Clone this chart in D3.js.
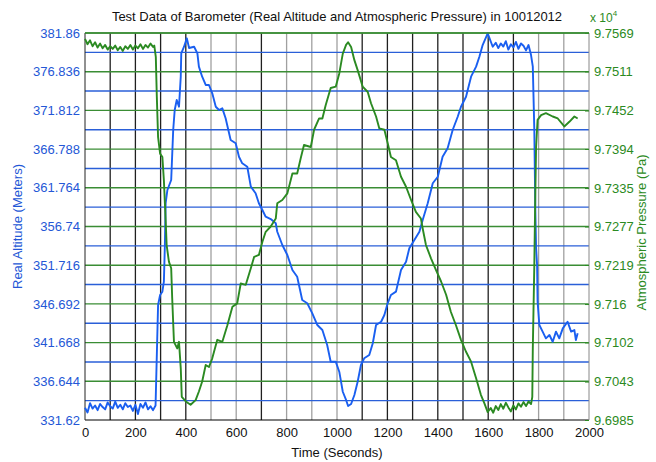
<!DOCTYPE html>
<html>
<head>
<meta charset="utf-8">
<script src="https://cdn.jsdelivr.net/npm/d3@7"></script>
<style>
  body { margin: 0; background: #fff; }
  svg { font-family: "Liberation Sans", Arial, sans-serif; }
</style>
</head>
<body>
<svg id="chart" width="656" height="462"></svg>
<script>
// time ticks (seconds)
const timeTicks = [0, 200, 400, 600, 800, 1000, 1200, 1400, 1600, 1800, 2000];
// left axis ticks (meters)
const altTicks = [331.62, 336.644, 341.668, 346.692, 351.716, 356.74, 361.764, 366.788, 371.812, 376.836, 381.86];
// right axis ticks (Pa)
const pressTicks = [96985, 97043, 97102, 97160, 97219, 97277, 97335, 97394, 97452, 97511, 97569];

// real altitude, [seconds, meters]
const altitude = [
  [0, 333.2], [10, 332.6], [20, 333.8], [30, 333.1], [40, 333.5], [50, 332.9], [60, 333.7],
  [70, 333.3], [80, 333.0], [90, 333.9], [100, 333.4], [110, 333.1], [120, 334.0], [130, 333.2],
  [140, 333.6], [150, 333.0], [160, 333.8], [170, 333.3], [180, 333.5], [190, 332.8], [200, 333.6],
  [210, 332.4], [220, 333.7], [230, 333.2], [240, 333.9], [250, 333.0], [260, 333.4], [270, 332.9],
  [280, 333.5], [290, 346.55], [298, 347.85], [307, 348.28], [313, 349.57], [317, 354.34],
  [320, 359.79], [327, 361.48], [342, 362.78], [350, 369.27], [356, 371.86], [364, 373.16],
  [373, 372.29], [380, 376.19], [382, 379.22], [393, 380.08], [404, 381.17], [413, 379.91],
  [433, 380.08], [446, 379.22], [452, 377.49], [465, 376.19], [479, 375.11], [492, 375.11],
  [505, 374.03], [519, 372.29], [532, 371.86], [545, 372.08], [558, 370.79], [578, 367.97],
  [598, 367.54], [611, 365.80], [624, 364.94], [644, 364.50], [658, 361.91], [677, 361.05],
  [690, 359.75], [704, 358.88], [717, 358.01], [737, 357.71], [757, 357.16], [763, 356.06],
  [783, 354.34], [803, 353.04], [823, 351.09], [842, 350.22], [862, 347.20], [882, 346.77],
  [902, 345.47], [922, 343.95], [942, 343.30], [961, 341.36], [975, 339.19], [995, 339.19],
  [1009, 337.89], [1023, 335.29], [1036, 334.22], [1044, 333.44], [1056, 333.70], [1069, 334.86],
  [1082, 336.59], [1095, 338.76], [1108, 339.63], [1128, 340.06], [1142, 341.58], [1155, 343.95],
  [1175, 344.38], [1188, 345.25], [1201, 346.77], [1214, 347.85], [1234, 348.28], [1254, 351.09],
  [1274, 352.17], [1287, 353.91], [1307, 354.99], [1327, 356.06], [1340, 357.58], [1360, 359.75],
  [1380, 362.35], [1400, 363.20], [1419, 365.80], [1439, 366.89], [1459, 369.27], [1479, 370.99],
  [1492, 372.29], [1512, 373.59], [1532, 376.19], [1552, 377.49], [1565, 378.78], [1578, 380.30],
  [1598, 381.82], [1618, 380.08], [1630, 380.6], [1640, 379.9], [1650, 380.5], [1660, 380.1],
  [1670, 380.8], [1680, 379.7], [1690, 380.4], [1700, 380.0], [1710, 380.7], [1720, 379.8],
  [1730, 380.5], [1740, 380.2], [1750, 379.6], [1760, 380.3], [1770, 379.0], [1777, 377.49],
  [1783, 369.27], [1787, 358.88], [1790, 353.95], [1794, 351.74], [1796, 346.98], [1803, 343.95],
  [1816, 343.09], [1829, 342.22], [1843, 342.65], [1856, 341.78], [1869, 343.09], [1882, 342.22],
  [1896, 343.52], [1915, 344.38], [1929, 343.09], [1942, 343.30], [1948, 342.0], [1955, 342.87]
];

// atmospheric pressure, [seconds, Pa]
const pressure = [
  [0, 97560], [10, 97552], [20, 97558], [30, 97549], [40, 97555], [50, 97547], [60, 97553],
  [70, 97546], [80, 97551], [90, 97544], [100, 97549], [110, 97545], [120, 97550], [130, 97543],
  [140, 97548], [150, 97542], [160, 97549], [170, 97545], [180, 97551], [190, 97544], [200, 97550],
  [210, 97546], [220, 97552], [230, 97545], [240, 97551], [250, 97547], [260, 97553], [270, 97548],
  [275, 97550], [281, 97533], [285, 97473], [290, 97412], [298, 97387], [307, 97382], [313, 97347],
  [320, 97287], [324, 97249], [333, 97224], [342, 97214], [346, 97169], [353, 97103], [366, 97093],
  [373, 97103], [380, 97063], [384, 97020], [400, 97013], [419, 97008], [439, 97015], [452, 97028],
  [465, 97043], [479, 97068], [492, 97065], [505, 97078], [525, 97106], [545, 97103], [565, 97128],
  [585, 97156], [604, 97161], [618, 97191], [638, 97189], [658, 97214], [671, 97231], [690, 97234],
  [704, 97254], [717, 97269], [737, 97277], [757, 97289], [763, 97312], [783, 97317], [803, 97327],
  [823, 97357], [842, 97357], [856, 97380], [869, 97400], [896, 97397], [909, 97423], [929, 97440],
  [942, 97440], [955, 97460], [975, 97486], [995, 97488], [1009, 97508], [1023, 97538], [1036, 97551],
  [1044, 97555], [1056, 97548], [1069, 97528], [1082, 97513], [1102, 97488], [1122, 97480],
  [1135, 97463], [1155, 97443], [1168, 97425], [1188, 97423], [1201, 97403], [1214, 97382],
  [1234, 97377], [1254, 97352], [1274, 97337], [1294, 97317], [1313, 97299], [1333, 97289],
  [1340, 97274], [1353, 97249], [1373, 97229], [1393, 97211], [1413, 97194], [1433, 97174],
  [1452, 97148], [1472, 97128], [1492, 97106], [1512, 97088], [1532, 97073], [1552, 97048],
  [1571, 97023], [1585, 97010], [1598, 96997], [1610, 97003], [1620, 96996], [1630, 97006],
  [1640, 97000], [1650, 97009], [1660, 97002], [1670, 97011], [1680, 97004], [1690, 96998],
  [1700, 97007], [1710, 97001], [1720, 97010], [1730, 97005], [1740, 97012], [1750, 97006],
  [1760, 97013], [1770, 97009], [1775, 97020], [1777, 97093], [1783, 97219], [1786, 97302],
  [1790, 97397], [1796, 97438], [1810, 97445], [1829, 97448], [1856, 97443], [1876, 97440],
  [1902, 97428], [1922, 97435], [1942, 97443], [1955, 97440]
];

const blue = '#1a5ff0';
const green = '#2b8a22';
const width = 656, height = 462;
const margin = { top: 33, right: 67, bottom: 42, left: 85 };

const svg = d3.select('#chart');

const x = d3.scaleLinear().domain([0, 2000]).range([margin.left, width - margin.right]);
const yAlt = d3.scaleLinear().domain([331.62, 381.86]).range([height - margin.bottom, margin.top]);
const yPress = d3.scaleLinear().domain([96985, 97569]).range([height - margin.bottom, margin.top]);

// vertical grid, some lines rendered lighter like the original
const lightV = new Set([500, 600, 800, 900, 1000, 1800, 1900]);
svg.append('g')
  .selectAll('line')
  .data(d3.range(100, 2000, 100))
  .join('line')
  .attr('x1', d => x(d)).attr('x2', d => x(d))
  .attr('y1', margin.top).attr('y2', height - margin.bottom)
  .attr('stroke', d => lightV.has(d) ? '#a0a0a0' : '#202020')
  .attr('stroke-width', 1.3);

// blue grid lines between the ticks
svg.append('g')
  .selectAll('line')
  .data(d3.pairs(altTicks).map(([a, b]) => (a + b) / 2))
  .join('line')
  .attr('x1', margin.left).attr('x2', width - margin.right)
  .attr('y1', d => yAlt(d)).attr('y2', d => yAlt(d))
  .attr('stroke', '#2a5fd8')
  .attr('stroke-width', 1.4);

// green grid lines on the ticks
svg.append('g')
  .selectAll('line')
  .data(altTicks.slice(1))
  .join('line')
  .attr('x1', margin.left).attr('x2', width - margin.right)
  .attr('y1', d => yAlt(d)).attr('y2', d => yAlt(d))
  .attr('stroke', '#3a8d34')
  .attr('stroke-width', 1.4);

// frame
svg.append('line')
  .attr('x1', margin.left).attr('x2', width - margin.right)
  .attr('y1', height - margin.bottom).attr('y2', height - margin.bottom)
  .attr('stroke', '#000');
svg.append('line')
  .attr('x1', margin.left).attr('x2', margin.left)
  .attr('y1', margin.top).attr('y2', height - margin.bottom)
  .attr('stroke', '#222');
svg.append('line')
  .attr('x1', width - margin.right).attr('x2', width - margin.right)
  .attr('y1', margin.top).attr('y2', height - margin.bottom)
  .attr('stroke', '#888');

// data lines
const altLine = d3.line().x(d => x(d[0])).y(d => yAlt(d[1]));
const pressLine = d3.line().x(d => x(d[0])).y(d => yPress(d[1]));

svg.append('path')
  .datum(altitude)
  .attr('d', altLine)
  .attr('fill', 'none')
  .attr('stroke', blue)
  .attr('stroke-width', 1.9)
  .attr('stroke-linejoin', 'round');

svg.append('path')
  .datum(pressure)
  .attr('d', pressLine)
  .attr('fill', 'none')
  .attr('stroke', green)
  .attr('stroke-width', 1.9)
  .attr('stroke-linejoin', 'round');

// axes
const xAxis = svg.append('g')
  .attr('transform', `translate(0,${height - margin.bottom})`)
  .call(d3.axisBottom(x).tickValues(timeTicks).tickSize(0).tickPadding(8).tickFormat(d3.format('d')));
xAxis.select('.domain').remove();
xAxis.selectAll('text').attr('fill', '#111').style('font-size', '13px');

const leftAxis = svg.append('g')
  .attr('transform', `translate(${margin.left},0)`)
  .call(d3.axisLeft(yAlt).tickValues(altTicks).tickSize(0).tickPadding(5).tickFormat(d => String(d)));
leftAxis.select('.domain').remove();
leftAxis.selectAll('text').attr('fill', '#2457d6').style('font-size', '13px');

const rightAxis = svg.append('g')
  .attr('transform', `translate(${width - margin.right},0)`)
  .call(d3.axisRight(yPress).tickValues(pressTicks).tickSize(4).tickPadding(1).tickFormat(d => String(+(d / 1e4).toFixed(4))));
rightAxis.select('.domain').remove();
rightAxis.selectAll('line').attr('stroke', green).attr('transform', 'translate(-4,0)');
rightAxis.selectAll('text').attr('fill', green).style('font-size', '13px');

// top border in green
svg.append('line')
  .attr('x1', margin.left).attr('x2', width - margin.right)
  .attr('y1', margin.top).attr('y2', margin.top)
  .attr('stroke', '#3a8d34')
  .attr('stroke-width', 1.4);

// titles and labels
svg.append('text')
  .attr('x', 337).attr('y', 21)
  .attr('text-anchor', 'middle')
  .style('font-size', '13px')
  .attr('fill', '#111')
  .text('Test Data of Barometer (Real Altitude and Atmospheric Pressure) in 10012012');

svg.append('text')
  .attr('x', 590).attr('y', 22)
  .attr('fill', green)
  .style('font-size', '12px')
  .text('x 10')
  .append('tspan')
  .attr('dy', -6)
  .style('font-size', '8px')
  .text('4');

svg.append('text')
  .attr('x', 337).attr('y', 457)
  .attr('text-anchor', 'middle')
  .style('font-size', '13px')
  .attr('fill', '#111')
  .text('Time (Seconds)');

svg.append('text')
  .attr('transform', `translate(22,${(margin.top + height - margin.bottom) / 2}) rotate(-90)`)
  .attr('text-anchor', 'middle')
  .style('font-size', '13px')
  .attr('fill', '#2457d6')
  .text('Real Altitude (Meters)');

svg.append('text')
  .attr('transform', `translate(646,${(margin.top + height - margin.bottom) / 2 + 6}) rotate(-90)`)
  .attr('text-anchor', 'middle')
  .style('font-size', '13px')
  .attr('fill', green)
  .text('Atmospheric Pressure (Pa)');
</script>
</body>
</html>
